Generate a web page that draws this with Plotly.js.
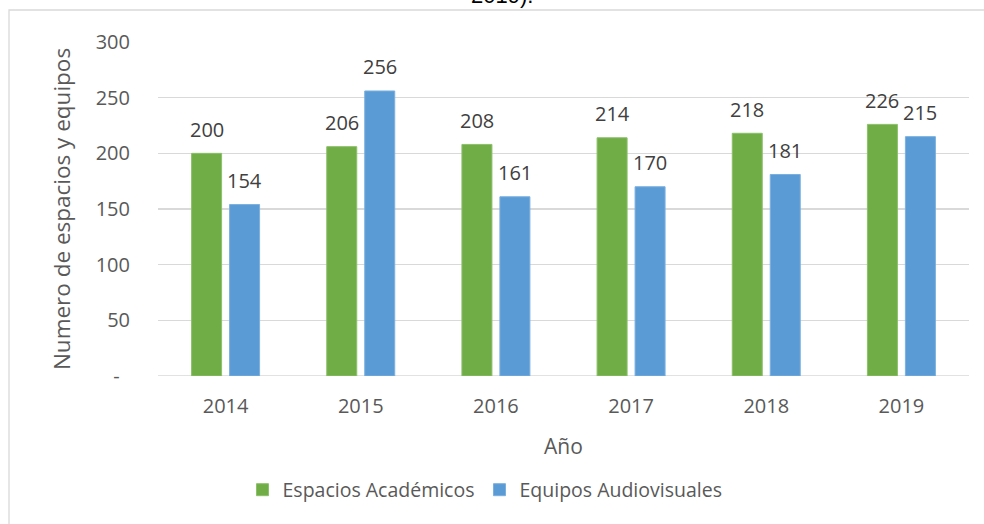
<!DOCTYPE html>
<html>
<head>
<meta charset="utf-8">
<script src="https://cdn.plot.ly/plotly-3.0.1.min.js"></script>
<style>html,body{margin:0;padding:0;background:#fff;}#chart{width:984px;height:524px;}</style>
</head>
<body>
<div id="chart"></div>
<script>
const years = ['2014', '2015', '2016', '2017', '2018', '2019'];
const espacios = [200, 206, 208, 214, 218, 226];
const equipos = [154, 256, 161, 170, 181, 215];
const seriesNames = ['Espacios Académicos', 'Equipos Audiovisuales'];
const yTickVals = [0, 50, 100, 150, 200, 250, 300];
const yTickText = ['-\u00a0\u00a0', '50', '100', '150', '200', '250', '300'];

const FONT = 'Open Sans, Noto Sans, sans-serif';
const GREEN = '#70AD47';
const BLUE = '#5B9BD5';

const traces = [
  {type: 'bar', name: seriesNames[0], x: years, y: espacios,
   marker: {color: GREEN, line: {color: '#8cc06a', width: 1}}, hoverinfo: 'skip'},
  {type: 'bar', name: seriesNames[1], x: years, y: equipos,
   marker: {color: BLUE, line: {color: '#7ab0e0', width: 1}}, hoverinfo: 'skip'}
];

// data labels: x is the category index on the category axis
const annotations = [];
years.forEach((yr, i) => {
  annotations.push({x: i, y: espacios[i], xref: 'x', yref: 'y', text: String(espacios[i]),
    showarrow: false, xshift: -19, yshift: 24, yanchor: 'middle',
    font: {family: FONT, size: 20, color: '#404040'}});
  annotations.push({x: i, y: equipos[i], xref: 'x', yref: 'y', text: String(equipos[i]),
    showarrow: false, xshift: 19, yshift: 24, yanchor: 'middle',
    font: {family: FONT, size: 20, color: '#404040'}});
});
annotations.push({x: 0.424, y: (376 - 10) / 334, xref: 'paper', yref: 'paper', text: '2019).',
  showarrow: false, yanchor: 'bottom', xanchor: 'center',
  font: {family: 'Liberation Sans, Arial, sans-serif', size: 22, color: '#000'}});

const layout = {
  width: 984, height: 524,
  margin: {l: 158, r: 15, t: 42, b: 148},
  paper_bgcolor: '#fff', plot_bgcolor: '#fff',
  font: {family: FONT, size: 20, color: '#595959'},
  barmode: 'group', bargap: 0.438, bargroupgap: 0.21,
  showlegend: true,
  legend: {orientation: 'h', xref: 'container', yref: 'container', x: 485 / 984, xanchor: 'center',
    y: 1 - 490 / 524, yanchor: 'middle', font: {family: FONT, size: 19.5, color: '#595959'},
    traceorder: 'normal'},
  xaxis: {type: 'category', range: [-0.5, years.length - 0.5], autorange: false,
    showgrid: false, zeroline: false, showline: false, ticks: '',
    ticklabelstandoff: 16, tickfont: {family: FONT, size: 20, color: '#595959'},
    title: {text: 'Año', standoff: 21, font: {family: FONT, size: 21, color: '#595959'}}},
  yaxis: {range: [0, 300], autorange: false, tickvals: yTickVals, ticktext: yTickText, showgrid: true,
    gridcolor: '#d9d9d9', gridwidth: 1.3, zeroline: false, showline: false, ticks: '',
    ticklabelstandoff: 27, tickfont: {family: FONT, size: 20, color: '#595959'},
    title: {text: 'Numero de espacios y equipos', standoff: 18, font: {family: FONT, size: 22.5, color: '#595959'}}},
  shapes: [
    {type: 'line', xref: 'paper', yref: 'y', x0: 0, x1: 1, y0: 0, y1: 0,
     line: {color: '#d9d9d9', width: 1.3}, layer: 'below'},
    {type: 'rect', xref: 'paper', yref: 'paper', x0: (9 - 158) / 811, x1: (995 - 158) / 811,
     y0: (376 - 540) / 334, y1: (376 - 10) / 334, line: {color: '#d9d9d9', width: 1.3},
     fillcolor: 'rgba(0,0,0,0)', layer: 'below'}
  ],
  annotations: annotations
};

Plotly.newPlot('chart', traces, layout, {displayModeBar: false, staticPlot: true});
</script>
</body>
</html>
